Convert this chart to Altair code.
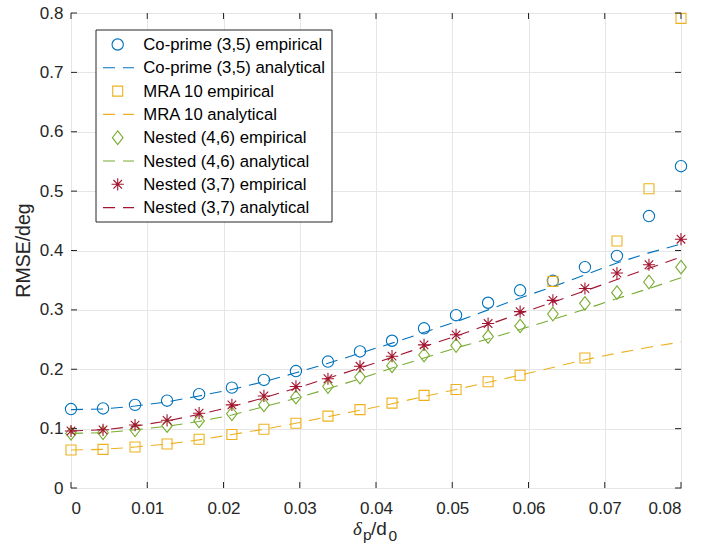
import altair as alt
import pandas as pd

# x positions (delta_p / d_0)
x_vals = [0.0, 0.0042, 0.0084, 0.0126, 0.0168, 0.0211, 0.0253, 0.0295, 0.0337, 0.0379,
          0.0421, 0.0463, 0.0505, 0.0547, 0.0589, 0.0632, 0.0674, 0.0716, 0.0758, 0.08]

coprime_emp = [0.133, 0.134, 0.140, 0.147, 0.158, 0.169, 0.182, 0.197, 0.213, 0.230,
               0.248, 0.269, 0.291, 0.312, 0.333, 0.349, 0.372, 0.391, 0.458, 0.542]
coprime_ana = [0.132, 0.133, 0.138, 0.145, 0.155, 0.166, 0.179, 0.194, 0.210, 0.227,
               0.244, 0.262, 0.280, 0.300, 0.320, 0.339, 0.359, 0.379, 0.396, 0.411]
mra_emp = [0.064, 0.065, 0.069, 0.074, 0.082, 0.090, 0.099, 0.109, 0.121, 0.132,
           0.143, 0.156, 0.166, 0.179, 0.190, 0.348, 0.219, 0.416, 0.504, 0.791]
mra_ana = [0.064, 0.065, 0.069, 0.074, 0.081, 0.090, 0.099, 0.109, 0.120, 0.131,
           0.142, 0.154, 0.166, 0.178, 0.190, 0.203, 0.216, 0.227, 0.237, 0.246]
nested46_emp = [0.092, 0.093, 0.098, 0.105, 0.113, 0.125, 0.140, 0.153, 0.171, 0.187,
                0.206, 0.224, 0.240, 0.255, 0.273, 0.293, 0.311, 0.329, 0.347, 0.372]
nested46_ana = [0.092, 0.093, 0.098, 0.104, 0.112, 0.123, 0.137, 0.151, 0.167, 0.184,
                0.202, 0.219, 0.236, 0.251, 0.267, 0.284, 0.301, 0.319, 0.336, 0.354]
nested37_emp = [0.096, 0.098, 0.106, 0.114, 0.126, 0.140, 0.155, 0.171, 0.184, 0.205,
                0.222, 0.241, 0.258, 0.277, 0.297, 0.316, 0.336, 0.362, 0.376, 0.419]
nested37_ana = [0.096, 0.098, 0.104, 0.113, 0.124, 0.137, 0.152, 0.168, 0.185, 0.202,
                0.220, 0.238, 0.256, 0.275, 0.294, 0.313, 0.332, 0.351, 0.370, 0.389]

series_names = ["Co-prime (3,5)", "MRA 10", "Nested (4,6)", "Nested (3,7)"]
series_colors = ["#0072BD", "#EDB120", "#77AC30", "#A2142F"]
emp_values = [coprime_emp, mra_emp, nested46_emp, nested37_emp]
ana_values = [coprime_ana, mra_ana, nested46_ana, nested37_ana]

x_ticks = [0, 0.01, 0.02, 0.03, 0.04, 0.05, 0.06, 0.07, 0.08]
y_ticks = [0, 0.1, 0.2, 0.3, 0.4, 0.5, 0.6, 0.7, 0.8]

FONT = "Liberation Sans"
W, H = 610, 475
AXC = "#262626"

DIAMOND = "M0,-1L0.78,0L0,1L-0.78,0Z"
STAR = "M0,-1L0,1M-1,0L1,0M-0.7,-0.7L0.7,0.7M-0.7,0.7L0.7,-0.7"
shapes = ["circle", "square", DIAMOND, STAR]
sizes = [128, 100, 185, 150]

xscale = alt.Scale(domain=[0, 0.08], nice=False, zero=False)
yscale = alt.Scale(domain=[0, 0.8], nice=False, zero=False)
xaxis = alt.Axis(values=x_ticks, title=None,
                 labelExpr="datum.value == 0 ? '0' : format(datum.value, '.2f')")
yaxis = alt.Axis(values=y_ticks, title=None,
                 labelExpr="datum.value == 0 ? '0' : format(datum.value, '.1f')")

X = alt.X("x:Q", scale=xscale, axis=xaxis)
Y = alt.Y("y:Q", scale=yscale, axis=yaxis)

layers = []
for name, col, emp, ana, shp, sz in zip(series_names, series_colors, emp_values, ana_values, shapes, sizes):
    df_e = pd.DataFrame({"x": x_vals, "y": emp})
    df_a = pd.DataFrame({"x": x_vals, "y": ana})
    layers.append(
        alt.Chart(df_e).mark_point(shape=shp, filled=False, size=sz, color=col,
                                   strokeWidth=1.1, opacity=1).encode(x=X, y=Y)
    )
    layers.append(
        alt.Chart(df_a).mark_line(color=col, strokeWidth=1.1, strokeDash=[12, 8]).encode(x=X, y=Y)
    )

# inward ticks on all four sides
dfx = pd.DataFrame({"x": x_ticks})
dfy = pd.DataFrame({"y": y_ticks})
layers.append(alt.Chart(dfx).mark_rule(color=AXC, strokeWidth=1).encode(
    x=X, y=alt.value(H), y2=alt.value(H - 6)))
layers.append(alt.Chart(dfx).mark_rule(color=AXC, strokeWidth=1).encode(
    x=X, y=alt.value(0), y2=alt.value(6)))
layers.append(alt.Chart(dfy).mark_rule(color=AXC, strokeWidth=1).encode(
    y=Y, x=alt.value(0), x2=alt.value(6)))
layers.append(alt.Chart(dfy).mark_rule(color=AXC, strokeWidth=1).encode(
    y=Y, x=alt.value(W), x2=alt.value(W - 6)))

# legend
one = pd.DataFrame({"k": [0]})
layers.append(alt.Chart(one).mark_rect(fill="white", stroke=AXC, strokeWidth=1).encode(
    x=alt.value(25), x2=alt.value(261), y=alt.value(17), y2=alt.value(209)))
row = 0
for name, col, shp, sz in zip(series_names, series_colors, shapes, sizes):
    for kind in ["empirical", "analytical"]:
        ry = 31.5 + row * 23.3
        if kind == "empirical":
            layers.append(alt.Chart(one).mark_point(shape=shp, filled=False, size=sz, color=col,
                                                    strokeWidth=1.1, opacity=1).encode(
                x=alt.value(46.7), y=alt.value(ry)))
        else:
            layers.append(alt.Chart(one).mark_rule(color=col, strokeWidth=1.1, strokeDash=[12, 8]).encode(
                x=alt.value(32), x2=alt.value(63), y=alt.value(ry)))
        layers.append(alt.Chart(one).mark_text(align="left", baseline="middle", font=FONT,
                                               fontSize=16.7, color="black").encode(
            x=alt.value(72.3), y=alt.value(ry + 0.5), text=alt.value(f"{name} {kind}")))
        row += 1

# axis titles
layers.append(alt.Chart(one).mark_text(angle=270, align="center", baseline="alphabetic",
                                       font=FONT, fontSize=19.5, color=AXC).encode(
    x=alt.value(-41), y=alt.value(H / 2), text=alt.value("RMSE/deg")))
layers.append(alt.Chart(one).mark_text(align="left", baseline="alphabetic", font="Liberation Serif",
                                       fontStyle="italic", fontSize=19, color=AXC).encode(
    x=alt.value(282), y=alt.value(522), text=alt.value("δ")))
layers.append(alt.Chart(one).mark_text(align="left", baseline="alphabetic", font=FONT,
                                       fontSize=15.5, color=AXC).encode(
    x=alt.value(292), y=alt.value(527), text=alt.value("p")))
layers.append(alt.Chart(one).mark_text(align="left", baseline="alphabetic", font=FONT,
                                       fontSize=19, color=AXC).encode(
    x=alt.value(300), y=alt.value(522), text=alt.value("/d")))
layers.append(alt.Chart(one).mark_text(align="left", baseline="alphabetic", font=FONT,
                                       fontSize=15.5, color=AXC).encode(
    x=alt.value(317.5), y=alt.value(527.5), text=alt.value("0")))

chart = alt.layer(*layers).properties(
    width=W, height=H,
    padding={"left": 71, "top": 13, "right": 20, "bottom": 71},
    autosize=alt.AutoSizeParams(type="none"),
    background="white",
).configure_axis(
    labelFont=FONT, labelFontSize=17, labelColor=AXC,
    grid=True, gridColor="#e6e6e6", gridWidth=1,
    domain=False, ticks=False,
).configure_axisX(labelPadding=12).configure_axisY(labelPadding=8).configure_view(
    stroke=AXC, strokeWidth=1
)

chart.save("out.html", embed_options={"renderer": "svg", "actions": False})
